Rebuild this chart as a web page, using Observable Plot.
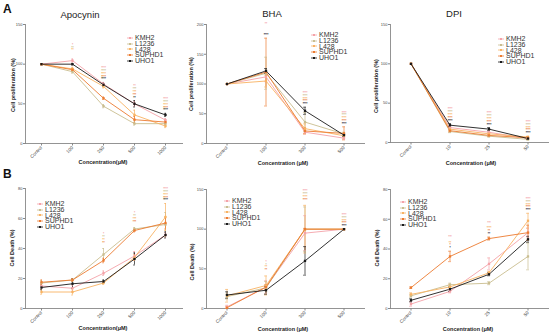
<!DOCTYPE html>
<html><head><meta charset="utf-8">
<script src="https://cdn.jsdelivr.net/npm/d3@7"></script>
<script src="https://cdn.jsdelivr.net/npm/@observablehq/plot@0.6"></script>
<style>
body{margin:0;background:#fff;}
#root{position:relative;width:550px;height:335px;background:#fff;font-family:"Liberation Sans",Arial,sans-serif;overflow:hidden;}
.abs{position:absolute;white-space:nowrap;}
.ttl{font-size:9.5px;color:#222;transform:translate(-50%,-50%);}
.ylab{font-size:5.5px;font-weight:bold;color:#222;transform:translate(-50%,-50%) rotate(-90deg);}
.xlab{font-size:5.5px;font-weight:bold;color:#222;transform:translate(-50%,-50%);}
.let{font-size:12px;font-weight:bold;color:#111;}
.leg{font-size:7px;line-height:5.75px;color:#333;}
.leg div{height:5.75px;display:flex;align-items:center;}
.leg svg{margin-right:2px;}
</style>
</head><body><div id="root"></div>
<script>
const series = ["KMH2","L1236","L428","SUPHD1","UHO1"];
const colors = ["#f4a2a8","#c9bd8f","#f8b262","#ec7b30","#1a1a1a"];

const apoCats = ["Control","100","250","500","1000"];
const bhaCats = ["Control","100","300","500"];
const dpiCats = ["Control","10","25","50"];

// Cell proliferation (%) — rows: KMH2, L1236, L428, SUPHD1, UHO1
const apoProl = [[100,104.5,75,50,29.5],[100,90.5,47,25,25],[100,94,72,36,22],[100,93,57,30,27],[100,100,74,50,36]];
const apoProlErr = [[0,2,2,3,2],[0,2,2,2,2],[0,2,2,6,2],[0,1.5,1.5,4,2],[0,1,2,4,2]];
const apoProlSig = [["","*","****","**","****"],["","**","****","***","****"],["","**","****","***","****"],["","","****","***","****"],["","","****","**","****"]];

const bhaProl = [[100,112,19,9],[100,118,36,16],[100,105,25,13],[100,120,21,17],[100,122,55,14]];
const bhaProlErr = [[0,8,3,2],[0,27,16,3],[0,10,8,4],[0,57,5,11],[0,4,6,2]];
const bhaProlSig = [["","**","****","****"],["","","****","****"],["","","****","****"],["","","****","****"],["","****","****","****"]];

const dpiProl = [[100,19,13,5],[100,14,8,4],[100,17,11,7],[100,15,9,6],[100,22,17,5]];
const dpiProlErr = [[0,2,2,1],[0,1.5,1,1],[0,2,1.5,1],[0,1.5,1,1.5],[0,2,2,1]];
const dpiProlSig = [["","****","****","****"],["","****","****","****"],["","****","****","****"],["","****","****","****"],["","****","****","****"]];

// Cell Death (%)
const apoDeath = [[15,13.5,23.5,35,49],[17,19,36,53,56],[11,11,17,34,61],[17.5,19,32,52,57],[14,16.5,18,33,49]];
const apoDeathErr = [[1.5,2,1.5,3,1.5],[1.5,1,4,1,8],[1.5,2,1,2,9],[1.5,1,1.5,1,4],[1.5,3,1,4,2]];
const apoDeathSig = [["","","*","*","****"],["","","**","**","****"],["","","**","***","****"],["","","**","***","****"],["","","","","****"]];

const bhaDeath = [[2,27,95,100],[15,26,100,100],[16,29,100,100],[1,27,100,100],[17,23,60,100]];
const bhaDeathErr = [[2,8,22,0],[3,8,28,0],[8,12,30,0],[1,3,1,0],[4,5,18,0]];
const bhaDeathSig = [["","*","****","****"],["","*","****","****"],["","**","****","****"],["","**","****","****"],["","","","****"]];

const dpiDeath = [[3,11.5,30,51],[8.5,16,17,35],[9.5,14.5,24,59],[14,35,47,51],[5.5,13,23,46.5]];
const dpiDeathErr = [[1.5,1,4,3],[1,1,1,9],[1,1.5,1,5],[0.5,3.5,1,5],[1,1.5,1,2]];
const dpiDeathSig = [["","***","***","****"],["","","","****"],["","**","****","****"],["","*","**","****"],["","*","**","****"]];

const root = document.getElementById("root");
function place(el, left, top){ el.style.position="absolute"; el.style.left=left+"px"; el.style.top=top+"px"; root.appendChild(el); }
function label(cls, text, x, y){ const d=document.createElement("div"); d.className="abs "+cls; d.textContent=text; d.style.left=x+"px"; d.style.top=y+"px"; root.appendChild(d); }

function legend(x, y){
  const d=document.createElement("div"); d.className="abs leg";
  series.forEach((s,i)=>{
    const r=document.createElement("div");
    r.innerHTML=`<svg width="6" height="4"><line x1="0" y1="2" x2="6" y2="2" stroke="${colors[i]}" stroke-width="0.8"/><rect x="2" y="1" width="2" height="2" fill="${colors[i]}"/></svg><span>${s}</span>`;
    d.appendChild(r);
  });
  d.style.left=(x-8)+"px"; d.style.top=(y-2.9)+"px"; root.appendChild(d);
}

function panel(c){
  const rows=[];
  c.cats.forEach((cat,j)=>series.forEach((s,i)=>rows.push({cat,s,i,v:c.vals[i][j],e:c.errs[i][j],sig:c.sigs[i][j]})));
  const base=new Map(c.cats.map((cat,j)=>[cat,d3.max(series,(s,i)=>c.vals[i][j]+c.errs[i][j])]));
  const sigMarks=series.map((s,i)=>Plot.text(rows.filter(d=>d.i===i&&d.sig),{x:"cat",y:d=>base.get(d.cat),text:"sig",fill:"s",dy:-3-(4-i)*2.8,fontSize:3,fontWeight:"bold"}));
  const errRows=rows.filter(d=>d.e>0);
  const chart=Plot.plot({
    width:c.w,height:c.h,marginLeft:c.mL,marginRight:c.mR,marginTop:c.mT,marginBottom:c.mB,
    x:{type:"band",domain:c.cats,paddingInner:0.92,paddingOuter:0.46},
    y:{domain:c.yDomain},
    color:{domain:series,range:colors},
    style:{fontFamily:"'Liberation Sans',Arial,sans-serif",background:"transparent",color:"#444",overflow:"visible"},
    marks:[
      Plot.axisY({ticks:c.yTicks,tickSize:2,tickPadding:1,fontSize:4,label:null,stroke:"#888"}),
      Plot.axisX({tickSize:2.5,tickPadding:1,tickRotate:-45,fontSize:4.6,label:null,stroke:"#888"}),
      Plot.frame({anchor:"left",stroke:"#888",strokeWidth:0.9}),
      Plot.frame({anchor:"bottom",stroke:"#888",strokeWidth:0.9}),
      Plot.line(rows,{x:"cat",y:"v",z:"s",stroke:"s",strokeWidth:0.9}),
      Plot.ruleX(errRows,{x:"cat",y1:d=>d.v-d.e,y2:d=>d.v+d.e,stroke:"s",strokeWidth:0.7}),
      Plot.tickY(errRows,{x:"cat",y:d=>d.v+d.e,stroke:"s",strokeWidth:0.6}),
      Plot.tickY(errRows,{x:"cat",y:d=>d.v-d.e,stroke:"s",strokeWidth:0.6}),
      Plot.dot(rows,{x:"cat",y:"v",fill:"s",symbol:"square",r:1.3}),
      ...sigMarks
    ]
  });
  place(chart,c.left,c.top);
}

panel({left:0,top:0,w:183,h:165,mL:25,mR:1,mT:24,mB:22,cats:apoCats,vals:apoProl,errs:apoProlErr,sigs:apoProlSig,yDomain:[0,150],yTicks:[0,50,100,150]});
panel({left:180,top:0,w:185,h:165,mL:26,mR:1,mT:24,mB:22,cats:bhaCats,vals:bhaProl,errs:bhaProlErr,sigs:bhaProlSig,yDomain:[0,200],yTicks:[0,50,100,150,200]});
panel({left:365,top:0,w:185,h:165,mL:25,mR:2,mT:24,mB:23,cats:dpiCats,vals:dpiProl,errs:dpiProlErr,sigs:dpiProlSig,yDomain:[0,150],yTicks:[0,50,100,150]});
panel({left:0,top:165,w:183,h:170,mL:25,mR:1,mT:23,mB:27,cats:apoCats,vals:apoDeath,errs:apoDeathErr,sigs:apoDeathSig,yDomain:[0,80],yTicks:[0,20,40,60,80]});
panel({left:180,top:165,w:185,h:170,mL:26,mR:1,mT:24,mB:27,cats:bhaCats,vals:bhaDeath,errs:bhaDeathErr,sigs:bhaDeathSig,yDomain:[0,150],yTicks:[0,50,100,150]});
panel({left:365,top:165,w:185,h:170,mL:25,mR:2,mT:24,mB:27,cats:dpiCats,vals:dpiDeath,errs:dpiDeathErr,sigs:dpiDeathSig,yDomain:[0,80],yTicks:[0,20,40,60,80]});

label("let","A",3,2); label("let","B",3,167);
label("ttl","Apocynin",80,14); label("ttl","BHA",272,13); label("ttl","DPI",454,13);
label("ylab","Cell proliferation (%)",13,85); label("ylab","Cell proliferation (%)",191,84); label("ylab","Cell proliferation (%)",376,86);
label("ylab","Cell Death (%)",12,248); label("ylab","Cell Death (%)",192,262); label("ylab","Cell Death (%)",377,248);
label("xlab","Concentration(μM)",103,162); label("xlab","Concentration (μM)",283,163); label("xlab","Concentration (μM)",471,163);
label("xlab","Concentration(μM)",103,328); label("xlab","Concentration (μM)",283,329); label("xlab","Concentration (μM)",468,329);
legend(135,38); legend(319,35); legend(506,39);
legend(45,204); legend(232,201); legend(408,202);
</script></body></html>
